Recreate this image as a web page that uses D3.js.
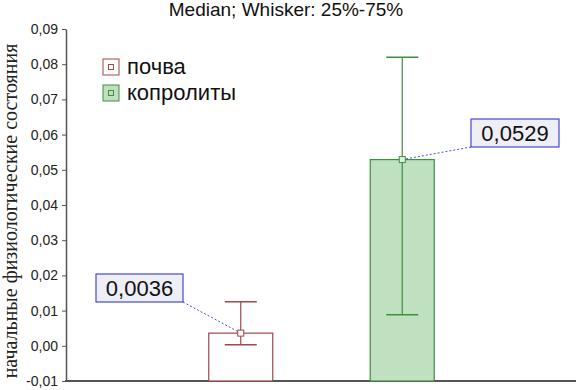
<!DOCTYPE html>
<html>
<head>
<meta charset="utf-8">
<script src="https://cdn.jsdelivr.net/npm/d3@7"></script>
<style>
body { margin: 0; background: white; }
svg { display: block; }
</style>
</head>
<body>
<svg class="canvas"></svg>
<script>
// data
let groups = ["почва", "копролиты"];
let medians = [0.0036, 0.0529];
let q25 = [0.0003, 0.0088];
let q75 = [0.0125, 0.082];
let labels = ["0,0036", "0,0529"];
let yTicks = [-0.01, 0, 0.01, 0.02, 0.03, 0.04, 0.05, 0.06, 0.07, 0.08, 0.09];
let strokes = ["#a0484a", "#3f8f3f"];
let fills = ["#ffffff", "#bfe1bf"];

let width = 579, height = 390;
let svg = d3.select(".canvas").attr("width", width).attr("height", height);

let y = d3.scaleLinear().domain([-0.01, 0.09]).range([381, 29]);
let x = d3.scaleBand().domain(groups).range([160, 483]).padding(0);

// title
svg.append("text").attr("x", 286).attr("y", 16).attr("text-anchor", "middle")
    .style("font-family", "Liberation Sans, Arial, sans-serif").style("font-size", "19px")
    .attr("fill", "#111")
    .text("Median; Whisker: 25%-75%");

// y axis
let fmt = d => d3.format(".2f")(d).replace(".", ",").replace("−", "-");
let yAxis = svg.append("g").attr("transform", "translate(66,0)")
    .call(d3.axisLeft(y).tickValues(yTicks).tickFormat(fmt).tickSize(4).tickSizeOuter(0));
yAxis.select(".domain").attr("stroke", "#555").attr("stroke-width", 1.5);
yAxis.selectAll(".tick line").attr("stroke", "#555");
yAxis.selectAll("text").style("font-family", "Liberation Sans, Arial, sans-serif")
    .style("font-size", "14px").attr("fill", "#222").attr("x", -8);

// bottom axis line
svg.append("line").attr("x1", 65).attr("x2", 576).attr("y1", y(-0.01)).attr("y2", y(-0.01))
    .attr("stroke", "#555").attr("stroke-width", 2);

// y label
svg.append("text").attr("transform", "translate(17,211) rotate(-90)")
    .attr("text-anchor", "middle")
    .style("font-family", "Liberation Serif, Times New Roman, serif").style("font-size", "20px")
    .attr("fill", "#222")
    .text("начальные физиологические состояния");

let bw = 64;
let cx = groups.map(g => x(g) + x.bandwidth() / 2);

groups.forEach(function(g, i) {
    let c = cx[i];
    svg.append("rect").attr("x", c - bw / 2).attr("y", y(medians[i]))
        .attr("width", bw).attr("height", y(-0.01) - y(medians[i]))
        .attr("fill", fills[i]).attr("stroke", strokes[i]).attr("stroke-width", 1.2);
    // whisker
    svg.append("line").attr("x1", c).attr("x2", c).attr("y1", y(q75[i])).attr("y2", y(q25[i]))
        .attr("stroke", strokes[i]).attr("stroke-width", 1.2);
    [q25[i], q75[i]].forEach(function(v) {
        svg.append("line").attr("x1", c - 16).attr("x2", c + 16).attr("y1", y(v)).attr("y2", y(v))
            .attr("stroke", strokes[i]).attr("stroke-width", 1.5);
    });
});

// value labels
let boxes = [{x: 96, y: 274, w: 87, h: 28, ax: 183, ay: 302},
             {x: 471, y: 119, w: 88, h: 28, ax: 471, ay: 147}];
boxes.forEach(function(b, i) {
    svg.append("line").attr("x1", b.ax).attr("y1", b.ay).attr("x2", cx[i]).attr("y2", y(medians[i]))
        .attr("stroke", "#5050c8").attr("stroke-width", 1).attr("stroke-dasharray", "2,2");
    svg.append("rect").attr("x", b.x).attr("y", b.y).attr("width", b.w).attr("height", b.h)
        .attr("fill", "#eeeef6").attr("stroke", "#4848d0").attr("stroke-width", 1.2);
    svg.append("text").attr("x", b.x + b.w / 2).attr("y", b.y + 22).attr("text-anchor", "middle")
        .style("font-family", "Liberation Sans, Arial, sans-serif").style("font-size", "22px")
        .attr("fill", "#111").text(labels[i]);
    svg.append("rect").attr("x", cx[i] - 3).attr("y", y(medians[i]) - 3).attr("width", 6).attr("height", 6)
        .attr("fill", i == 0 ? "#fff" : "#dff0df").attr("stroke", strokes[i]).attr("stroke-width", 1);
});

// legend
groups.forEach(function(g, i) {
    let ly = 59 + i * 26;
    svg.append("rect").attr("x", 103).attr("y", ly).attr("width", 16).attr("height", 16)
        .attr("fill", fills[i]).attr("stroke", strokes[i]).attr("stroke-width", 1);
    svg.append("rect").attr("x", 108.5).attr("y", ly + 5.5).attr("width", 5).attr("height", 5)
        .attr("fill", "none").attr("stroke", strokes[i]).attr("stroke-width", 1);
    svg.append("text").attr("x", 127).attr("y", ly + 15)
        .style("font-family", "Liberation Sans, Arial, sans-serif").style("font-size", "22px")
        .attr("fill", "#111").text(g);
});
</script>
</body>
</html>
